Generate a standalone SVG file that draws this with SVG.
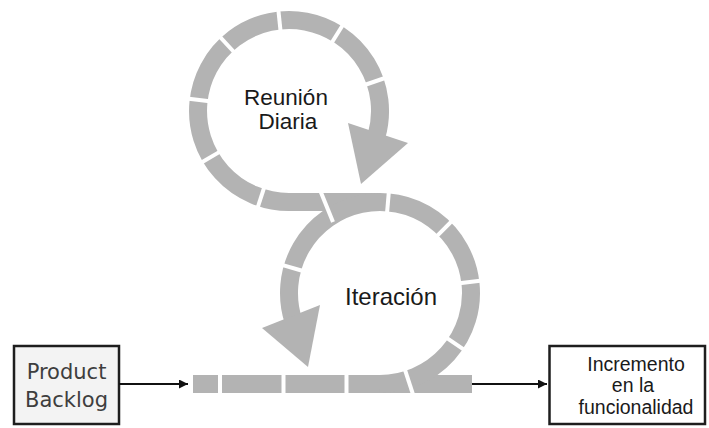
<svg xmlns="http://www.w3.org/2000/svg" width="709" height="428" viewBox="0 0 709 428">
  <defs>
    <style>
      .band { fill: none; stroke: #b3b3b3; stroke-width: 18; }
      .head { fill: #b3b3b3; stroke: none; }
      .gap { stroke: #ffffff; stroke-width: 4; fill: none; }
      .box { stroke: #1e1e1e; stroke-width: 2.5; }
      .conn { stroke: #111111; stroke-width: 2; fill: none; }
      .lbl { font-family: "Liberation Sans", Arial, sans-serif; fill: #1a1a1a; text-anchor: middle; }
      .pb { font-family: "DejaVu Sans", Verdana, sans-serif; fill: #3e3e3e; text-anchor: middle; font-size: 21px; }
    </style>
    <marker id="arr" markerUnits="userSpaceOnUse" markerWidth="10" markerHeight="9" refX="9" refY="4.5" orient="auto">
      <path d="M0,0 L9,4.5 L0,9 z" fill="#111111"/>
    </marker>
  </defs>
  <rect width="709" height="428" fill="#ffffff"/>

  <g id="loops">
    <path class="band" d="M193 384 L472 384"/>
    <path class="band" d="M380 202 L289 202 A91 91 0 1 1 376.5 136.1"/>
    <path class="band" d="M293.45 321.1 A91 91 0 1 1 380 384"/>
    <polygon class="head" points="348,123 408,143 361,184"/>
    <polygon class="head" points="262,328 320,305 308,367"/>
    <g id="gaps">
      <line class="gap" x1="264.3" y1="187.1" x2="257.2" y2="209"/>
      <line class="gap" x1="220" y1="151.6" x2="200.2" y2="163.3"/>
      <line class="gap" x1="209.6" y1="101.2" x2="186.8" y2="98.4"/>
      <line class="gap" x1="234.4" y1="52.5" x2="218.8" y2="35.7"/>
      <line class="gap" x1="280.6" y1="31.4" x2="278.2" y2="8.6"/>
      <line class="gap" x1="331.4" y1="43.2" x2="343.6" y2="23.7"/>
      <line class="gap" x1="364.6" y1="85" x2="386.4" y2="77.5"/>
      <line class="gap" x1="320" y1="190" x2="333" y2="222"/>
      <line class="gap" x1="387" y1="213.3" x2="389" y2="190"/>
      <line class="gap" x1="303.1" y1="271" x2="281" y2="264.6"/>
      <line class="gap" x1="436.6" y1="236.4" x2="452.8" y2="220.2"/>
      <line class="gap" x1="459.4" y1="283.2" x2="482.2" y2="280.4"/>
      <line class="gap" x1="446.3" y1="337.7" x2="465.4" y2="350.6"/>
      <line class="gap" x1="404.1" y1="367.2" x2="413.4" y2="395.7"/>
      <line class="gap" x1="220" y1="373" x2="220" y2="395"/>
      <line class="gap" x1="283.5" y1="373" x2="283.5" y2="395"/>
      <line class="gap" x1="346.5" y1="373" x2="346.5" y2="395"/>
    </g>
    <text class="lbl" font-size="22.5" x="286" y="105">Reunión</text>
    <text class="lbl" font-size="22.5" x="288" y="128.5">Diaria</text>
    <text class="lbl" font-size="24" x="391" y="305">Iteración</text>
  </g>

  <g id="product-backlog">
    <rect class="box" x="14" y="346" width="105" height="78" fill="#f3f3f3"/>
    <text class="pb" x="66.5" y="379">Product</text>
    <text class="pb" x="66.5" y="407">Backlog</text>
  </g>

  <g id="incremento">
    <rect class="box" x="549.5" y="346" width="155.5" height="78" fill="#ffffff"/>
    <text class="lbl" font-size="19.5" x="636" y="370.5">Incremento</text>
    <text class="lbl" font-size="19.5" x="633" y="392">en la</text>
    <text class="lbl" font-size="19.5" x="636" y="413.5">funcionalidad</text>
  </g>

  <g id="connectors">
    <line class="conn" x1="119" y1="384" x2="188" y2="384" marker-end="url(#arr)"/>
    <line class="conn" x1="472" y1="384" x2="547" y2="384" marker-end="url(#arr)"/>
  </g>
</svg>
